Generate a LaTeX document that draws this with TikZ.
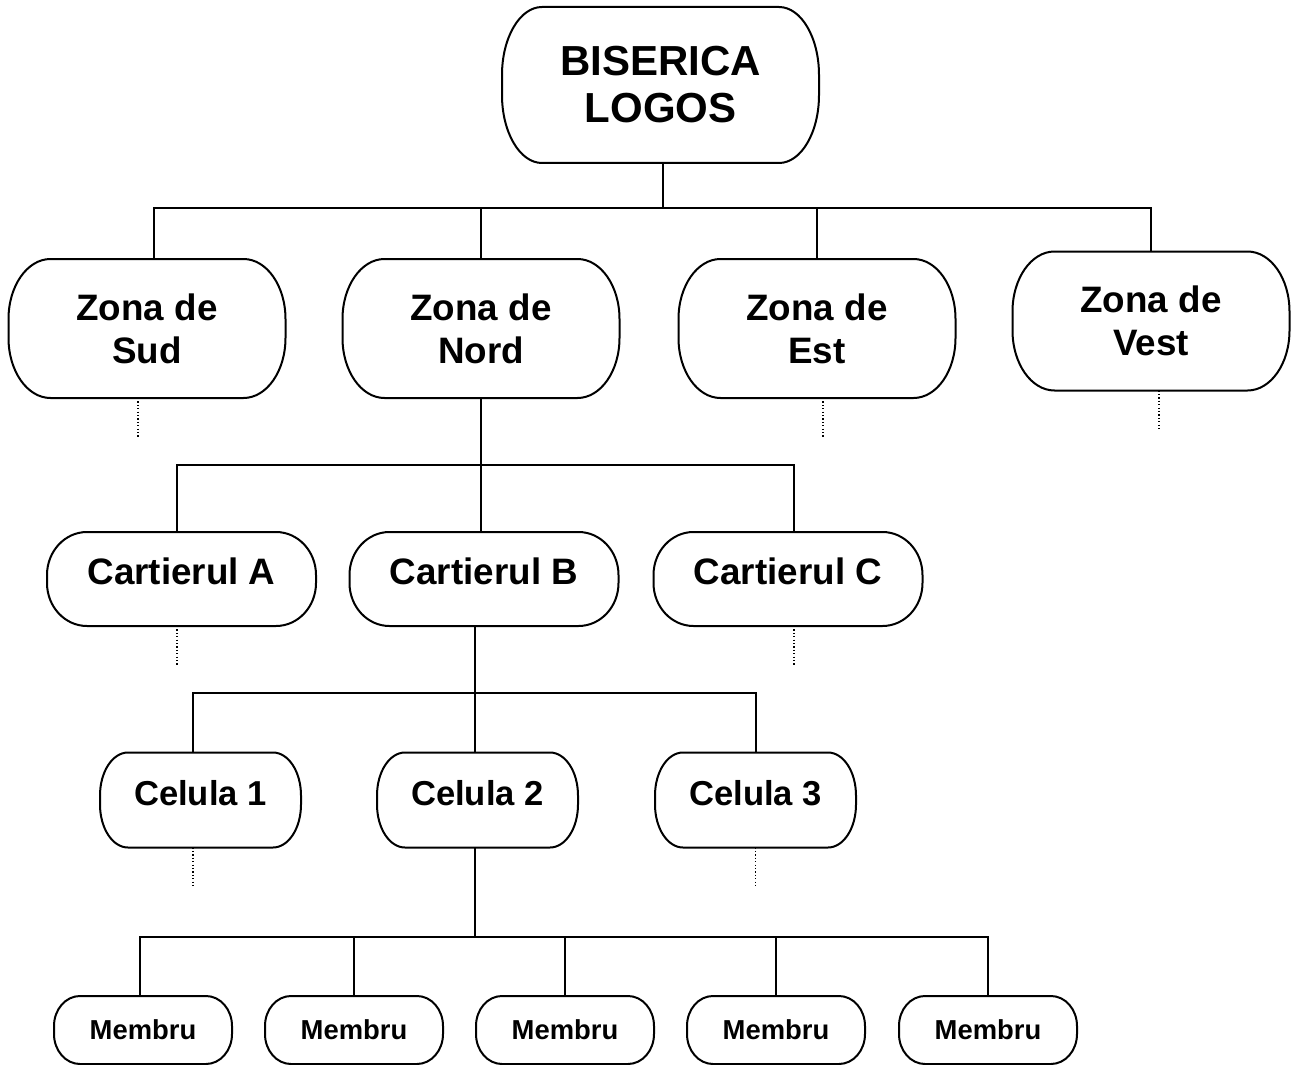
\documentclass[tikz,border=0pt]{standalone}
\usepackage{fontspec}
\setmainfont{Liberation Sans}
\usetikzlibrary{positioning}

\begin{document}
\begin{tikzpicture}[
x=0.5pt, y=-0.5pt,
line width=1pt,
boxnode/.style={rectangle, align=center, inner sep=0pt},
topnode/.style={boxnode, minimum width=157.5pt, minimum height=77pt, font=\bfseries\fontsize{21pt}{23.5pt}\selectfont},
zonenode/.style={boxnode, minimum width=137.5pt, minimum height=68.5pt, font=\bfseries\fontsize{18.4pt}{21.5pt}\selectfont},
cartnode/.style={boxnode, minimum width=133.5pt, minimum height=46pt, text height=13.5pt, text depth=8pt, font=\bfseries\fontsize{18.4pt}{21.5pt}\selectfont},
cellnode/.style={boxnode, minimum width=99.5pt, minimum height=46.5pt, text height=12.4pt, text depth=7pt, font=\bfseries\fontsize{17.3pt}{20pt}\selectfont},
membernode/.style={boxnode, minimum width=88pt, minimum height=33pt, font=\bfseries\fontsize{13.7pt}{16pt}\selectfont},
dotlink/.style={line width=0.6pt, dash pattern=on 0.6pt off 1.1pt},
]
\useasboundingbox (0,0) rectangle (1291,1065);

%Nodes
\node[topnode]  (top)  at (660.5,85)  {BISERICA\\LOGOS};
\node[zonenode] (sud)  at (147,328.5) {Zona de\\Sud};
\node[zonenode] (nord) at (481,328.5) {Zona de\\Nord};
\node[zonenode] (est)  at (817,328.5) {Zona de\\Est};
\node[zonenode] (vest) at (1151,321)  {Zona de\\Vest};

\node[cartnode] (cartA) at (181.5,579) {Cartierul A};
\node[cartnode] (cartB) at (484,579)   {Cartierul B};
\node[cartnode] (cartC) at (788,579)   {Cartierul C};

\node[cellnode] (cel1) at (200.5,800) {Celula 1};
\node[cellnode] (cel2) at (477.5,800) {Celula 2};
\node[cellnode] (cel3) at (755.5,800) {Celula 3};

\node[membernode] (mem1) at (143,1030) {Membru};
\node[membernode] (mem2) at (354,1030) {Membru};
\node[membernode] (mem3) at (565,1030) {Membru};
\node[membernode] (mem4) at (776,1030) {Membru};
\node[membernode] (mem5) at (988,1030) {Membru};

%Outlines (node / x radius / y radius)
\foreach \n/\rx/\ry in {top/20/34, sud/21/30, nord/21/30, est/21/30, vest/21/30,
    cartA/20/21.5, cartB/20/21.5, cartC/20/21.5, cel1/14/21.5, cel2/14/21.5, cel3/14/21.5,
    mem1/13/15, mem2/13/15, mem3/13/15, mem4/13/15, mem5/13/15}
  \draw ([xshift=\rx pt]\n.north west) -- ([xshift=-\rx pt]\n.north east)
    arc[start angle=90, end angle=0, x radius=\rx pt, y radius=\ry pt]
    -- ([yshift=\ry pt]\n.south east)
    arc[start angle=0, end angle=-90, x radius=\rx pt, y radius=\ry pt]
    -- ([xshift=\rx pt]\n.south west)
    arc[start angle=270, end angle=180, x radius=\rx pt, y radius=\ry pt]
    -- ([yshift=-\ry pt]\n.north west)
    arc[start angle=180, end angle=90, x radius=\rx pt, y radius=\ry pt]
    -- cycle;

%Buses
\coordinate (bus1) at (0,208);
\coordinate (bus2) at (0,465);
\coordinate (bus3) at (0,693);
\coordinate (bus4) at (0,937);

%Lines
\draw ([xshift=1.25pt]top.south) -- ([xshift=1.25pt]top.south |- bus1);
\draw ([xshift=3.5pt]sud.north) |- (vest.north |- bus1) -- (vest.north);
\draw (nord.north) -- (nord.north |- bus1);
\draw (est.north) -- (est.north |- bus1);

\draw (nord.south) -- (nord.south |- bus2);
\draw ([xshift=-2.25pt]cartA.north) |- ([xshift=3pt]cartC.north |- bus2) -- ([xshift=3pt]cartC.north);
\draw ([xshift=-1.5pt]cartB.north) -- ([xshift=-1.5pt]cartB.north |- bus2);

\draw ([xshift=-4.5pt]cartB.south) -- ([xshift=-4.5pt]cartB.south |- bus3);
\draw ([xshift=-3.75pt]cel1.north) |- (cel3.north |- bus3) -- (cel3.north);
\draw ([xshift=-1.5pt]cel2.north) -- ([xshift=-1.5pt]cel2.north |- bus3);

\draw ([xshift=-1.5pt]cel2.south) -- ([xshift=-1.5pt]cel2.south |- bus4);
\draw ([xshift=-1.5pt]mem1.north) |- (mem5.north |- bus4) -- (mem5.north);
\foreach \m in {mem2,mem3,mem4}
  \draw (\m.north) -- (\m.north |- bus4);

%Dotted continuations
\draw[dotlink] ([xshift=-4.5pt]sud.south) -- ++(0,40);
\draw[dotlink] ([xshift=3pt]est.south) -- ++(0,40);
\draw[dotlink] ([xshift=4pt]vest.south) -- ++(0,39);
\draw[dotlink] ([xshift=-2.25pt]cartA.south) -- ++(0,40);
\draw[dotlink] ([xshift=3pt]cartC.south) -- ++(0,40);
\draw[dotlink] ([xshift=-3.75pt]cel1.south) -- ++(0,38);
\draw[dotlink] (cel3.south) -- ++(0,38);
\end{tikzpicture}
\end{document}
